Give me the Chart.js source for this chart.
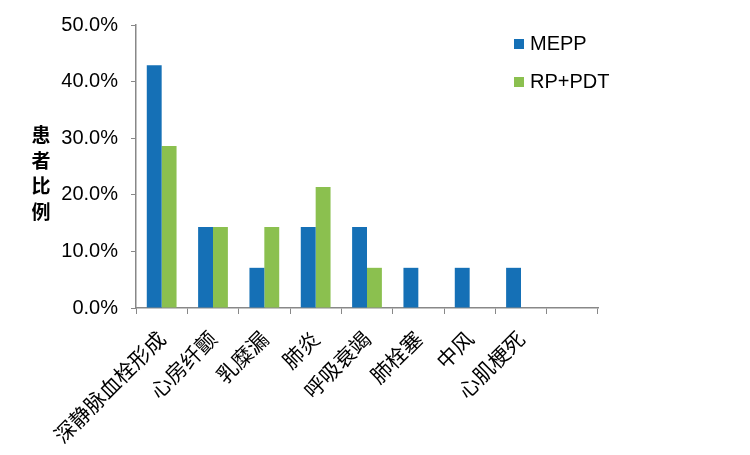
<!DOCTYPE html>
<html>
<head>
<meta charset="utf-8">
<script src="https://cdn.jsdelivr.net/npm/chart.js@4"></script>
<style>
  body { margin: 0; background: #fff; }
</style>
</head>
<body>
<canvas id="grafico" width="750" height="455"></canvas>
<script>
const categorias = ['深静脉血栓形成', '心房纤颤', '乳糜漏', '肺炎', '呼吸衰竭', '肺栓塞', '中风', '心肌梗死', ''];
const mepp = [42.9, 14.3, 7.1, 14.3, 14.3, 7.1, 7.1, 7.1, null];
const rpPdt = [28.6, 14.3, 14.3, 21.4, 7.1, 0, 0, 0, null];
const ticksY = [0, 10, 20, 30, 40, 50];
const tituloY = '患者比例';

const azul = '#1570b6';
const verde = '#8bc04f';

// titulo vertical del eje y, un caracter por linea
const tituloPlugin = {
    id: 'tituloY',
    afterDraw(chart) {
        const ctx = chart.ctx;
        ctx.save();
        ctx.font = 'bold 19px "Noto Sans CJK SC"';
        ctx.fillStyle = '#000';
        ctx.textAlign = 'center';
        ctx.textBaseline = 'middle';
        for (let i = 0; i < tituloY.length; i++) {
            ctx.fillText(tituloY[i], 41, 135 + i * 25.5);
        }
        ctx.restore();
    }
};

// leyenda dentro del area del grafico
const leyendaPlugin = {
    id: 'leyenda',
    afterDraw(chart) {
        const ctx = chart.ctx;
        ctx.save();
        ctx.font = '20px "Liberation Sans", Arial';
        ctx.textBaseline = 'middle';
        chart.data.datasets.forEach((ds, i) => {
            const y = 44 + i * 38;
            ctx.fillStyle = ds.backgroundColor;
            ctx.fillRect(514, y - 5, 10, 10);
            ctx.fillStyle = '#000';
            ctx.fillText(ds.label, 530, y);
        });
        ctx.restore();
    }
};

const ctx = document.getElementById('grafico').getContext('2d');
new Chart(ctx, {
    type: 'bar',
    data: {
        labels: categorias,
        datasets: [
            { label: 'MEPP', data: mepp, backgroundColor: azul },
            { label: 'RP+PDT', data: rpPdt, backgroundColor: verde }
        ]
    },
    options: {
        responsive: false,
        animation: false,
        layout: { padding: { top: 22, right: 152, left: 0, bottom: 0 } },
        barPercentage: 1,
        categoryPercentage: 0.58,
        plugins: {
            legend: { display: false },
            tooltip: { enabled: false }
        },
        scales: {
            x: {
                afterFit: s => { s.height = 147; },
                grid: { drawOnChartArea: false, tickLength: 6, color: '#888', offset: true },
                border: { color: '#888', width: 1.5 },
                ticks: {
                    minRotation: 45,
                    maxRotation: 45,
                    autoSkip: false,
                    padding: 12,
                    color: '#000',
                    font: { family: '"Noto Sans CJK SC"', size: 21 }
                }
            },
            y: {
                min: 0,
                max: 50,
                afterFit: s => { s.width = 136; },
                afterBuildTicks: s => { s.ticks = ticksY.map(v => ({ value: v })); },
                grid: { drawOnChartArea: false, tickLength: 5, color: '#888' },
                border: { color: '#888', width: 1.5 },
                ticks: {
                    padding: 13,
                    color: '#000',
                    font: { family: '"Liberation Sans", Arial', size: 20 },
                    callback: v => v.toFixed(1) + '%'
                }
            }
        }
    },
    plugins: [tituloPlugin, leyendaPlugin]
});
</script>
</body>
</html>
